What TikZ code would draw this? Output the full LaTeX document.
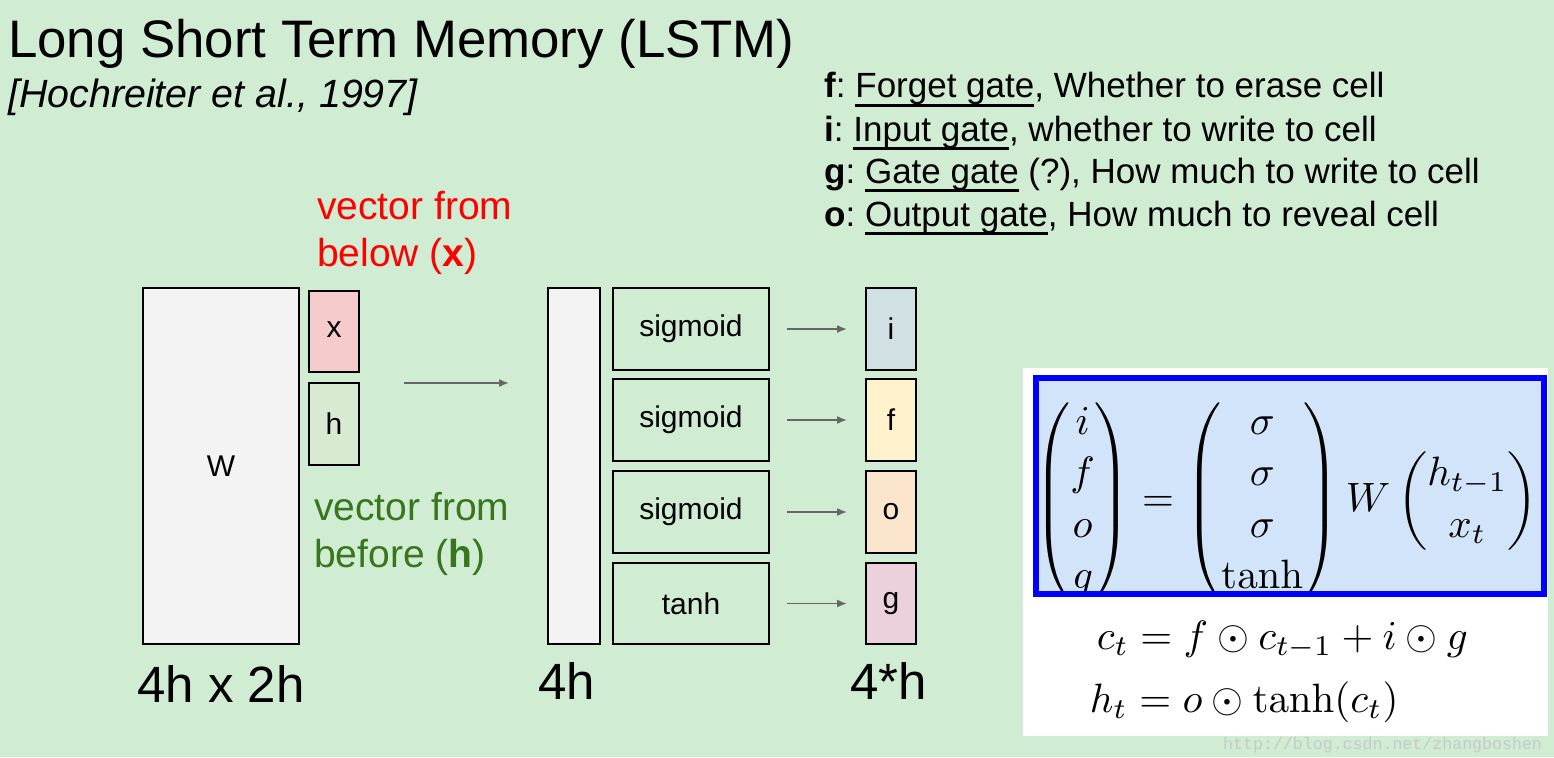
\documentclass[tikz,border=0pt]{standalone}
\usepackage{amsmath}
\usepackage[no-math]{fontspec}
\setmainfont{Liberation Sans}
\setmonofont{Liberation Mono}
\usetikzlibrary{arrows.meta}
\frenchspacing
\definecolor{bg}{RGB}{208,236,210}
\definecolor{wfill}{RGB}{243,243,243}
\definecolor{xfill}{RGB}{244,204,204}
\definecolor{hfill}{RGB}{217,234,211}
\definecolor{ifill}{RGB}{208,224,227}
\definecolor{ffill}{RGB}{255,242,204}
\definecolor{ofill}{RGB}{252,229,205}
\definecolor{gfill}{RGB}{234,209,220}
\definecolor{darkgreen}{RGB}{56,118,29}
\definecolor{arrowgray}{RGB}{102,102,102}
\definecolor{eqblue}{RGB}{210,228,250}
\definecolor{markgray}{RGB}{200,200,200}
\newcommand\fsz[1]{\fontsize{#1}{1.2\dimexpr#1pt\relax}\selectfont}
\newcommand\myul[1]{\setbox0\hbox{#1}\rlap{\rule[-9pt]{\wd0}{2.6pt}}\box0\relax}
\tikzset{
  boxst/.style={draw=black, line width=2pt, inner sep=0pt},
  lbl/.style={inner sep=0pt, font=\fsz{30}},
  txt/.style={inner sep=0pt, anchor=base west},
  mth/.style={inner sep=0pt, anchor=base west, scale=4.1},
  arr/.style={draw=arrowgray, line width=1.6pt, -{Latex[length=10pt,width=8pt]}},
}
\begin{document}
\begin{tikzpicture}[x=1pt,y=-1pt]
\useasboundingbox (0,0) rectangle (1554,757);
\fill[bg] (0,0) rectangle (1554,757);

% titles
\node[txt] (title) at (8,58) {\fsz{52.8}Long Short Term Memory (LSTM)};
\node[txt] (cite) at (8,108) {\fsz{39.4}\itshape [Hochreiter et al., 1997]};

% legend
\node[txt] (lf) at (824,98) {\fsz{35}\textbf{f}: \myul{Forget gate}, Whether to erase cell};
\node[txt] (li) at (824,141) {\fsz{35}\textbf{i}: \myul{Input gate}, whether to write to cell};
\node[txt] (lg) at (824,183) {\fsz{35}\textbf{g}: \myul{Gate gate} (?), How much to write to cell};
\node[txt] (lo) at (824,226) {\fsz{35}\textbf{o}: \myul{Output gate}, How much to reveal cell};

% W matrix and inputs
\node[boxst, fill=wfill, minimum width=156pt, minimum height=356pt] (W) at (221,466) {};
\node[lbl] at (W.center) {W};
\node[boxst, fill=xfill, minimum width=50pt, minimum height=81pt] (x) at (334,331.5) {};
\node[lbl] at ([yshift=2pt]x.center) {x};
\node[boxst, fill=hfill, minimum width=50pt, minimum height=82pt] (h) at (334,424) {};
\node[lbl] at (h.center) {h};

\node[txt, text=red] (vx1) at (317,219) {\fsz{39}vector from};
\node[txt, text=red] (vx2) at (317,266) {\fsz{39}below (\textbf{x})};
\node[txt, text=darkgreen] (vh1) at (314,520) {\fsz{39}vector from};
\node[txt, text=darkgreen] (vh2) at (314,567) {\fsz{39}before (\textbf{h})};

\coordinate (a0) at (404,383);
\coordinate (a1) at (509,383);
\draw[arr] (a0) -- (a1);

\node[txt] (dimW) at (137,702) {\fsz{51}4h x 2h};

% 4h vector
\node[boxst, fill=wfill, minimum width=52pt, minimum height=356pt] (bar) at (574,466) {};
\node[txt] (dim4h) at (538,699) {\fsz{51}4h};

% activation boxes
\foreach \n/\t/\yc/\hh in {s1/sigmoid/329/82, s2/sigmoid/420/82, s3/sigmoid/512/82, s4/tanh/603.5/81}{
  \node[boxst, minimum width=156pt, minimum height=\hh pt, font=\fsz{30}] (\n) at (691,\yc) {\t};
}
\foreach \n/\t/\c/\yc/\hh in {oi/i/ifill/329/82, of/f/ffill/420/82, oo/o/ofill/512/82, og/g/gfill/603.5/81}{
  \node[boxst, fill=\c, minimum width=50pt, minimum height=\hh pt, font=\fsz{30}] (\n) at (891,\yc) {\t};
}
\foreach \s/\o in {s1/oi, s2/of, s3/oo, s4/og}{
  \draw[arr] ([xshift=17pt]\s.east) -- ([xshift=-18pt]\o.west);
}
\node[txt] (dim4sh) at (850,699) {\fsz{51}4*h};

% equations panel
\node[fill=white, minimum width=525pt, minimum height=368pt, inner sep=0pt] (panel) at (1285.5,552) {};
\fill[eqblue] (1033,375) rectangle (1547,597);
\begin{scope}
\clip (1036,378) rectangle (1544,594);
\node[inner sep=0pt, scale=4.1] (eq) at (1286,501) {\renewcommand\arraystretch{1.047}%
$\begin{pmatrix} i\\ f\\ o\\ g\end{pmatrix}
=\begin{pmatrix}\sigma\\ \sigma\\ \sigma\\ \tanh\end{pmatrix}
W\begin{pmatrix}h_{t-1}\\ x_t\end{pmatrix}$};
\end{scope}
\draw[blue, line width=6pt] (1036,378) rectangle (1544,594);

\node[mth] (ceq) at (1096,649) {$c_t = f\odot c_{t-1} + i\odot g$};
\node[mth] (heq) at (1089,712) {$h_t = o\odot \tanh(c_t)$};

\node[txt, text=markgray] (mark) at (1223,749) {\fontsize{16.6}{20}\ttfamily http://blog.csdn.net/zhangboshen};
\end{tikzpicture}
\end{document}
